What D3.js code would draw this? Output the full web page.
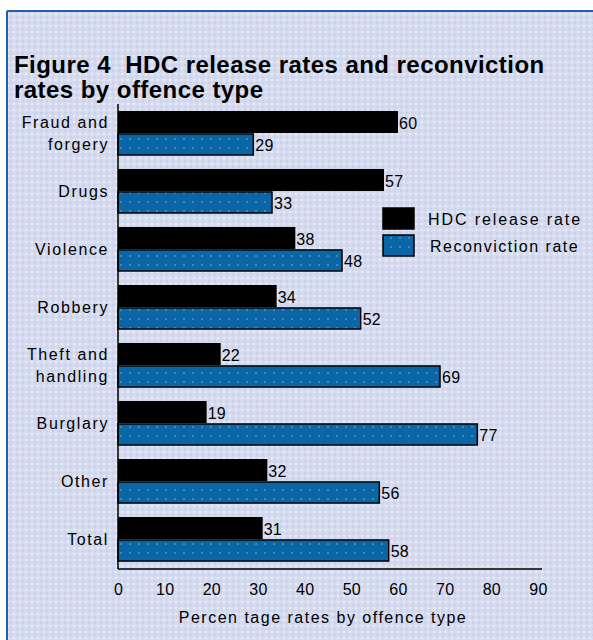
<!DOCTYPE html>
<html><head><meta charset="utf-8">
<script src="https://cdn.jsdelivr.net/npm/d3@7"></script>
<style>body{margin:0;background:#fff}svg{display:block}</style>
</head><body>
<script>
const categories = ["Fraud and|forgery","Drugs","Violence","Robbery","Theft and|handling","Burglary","Other","Total"];
const hdcRelease = [60,57,38,34,22,19,32,31];
const reconviction = [29,33,48,52,69,77,56,58];
const xTicks = [0,10,20,30,40,50,60,70,80,90];
const seriesNames = ["HDC release rate","Reconviction rate"];
const titleLines = ["Figure 4\u00a0\u00a0HDC release rates and reconviction","rates by offence type"];
const axisTitle = "Percen tage rates by offence type";

const W=593,H=640;
const svg=d3.select("body").append("svg").attr("width",W).attr("height",H);
const defs=svg.append("defs");
const bg=defs.append("pattern").attr("id","bg").attr("width",6).attr("height",6).attr("patternUnits","userSpaceOnUse");
bg.append("rect").attr("width",6).attr("height",6).attr("fill","#d5daee");
bg.append("rect").attr("x",1).attr("y",1).attr("width",2).attr("height",2).attr("fill","#e4f2f8");
bg.append("rect").attr("x",4).attr("y",4).attr("width",2).attr("height",2).attr("fill","#cbd1ea");
const bp=defs.append("pattern").attr("id","bluep").attr("width",9).attr("height",9).attr("patternUnits","userSpaceOnUse");
bp.append("rect").attr("width",9).attr("height",9).attr("fill","#0b66a6");
bp.append("rect").attr("x",3).attr("y",3).attr("width",2).attr("height",2).attr("fill","#3f86c8");

svg.append("rect").attr("width",W).attr("height",H).attr("fill","#fff");
svg.append("rect").attr("x",7).attr("y",11).attr("width",W-7).attr("height",H-11).attr("fill","url(#bg)");
svg.append("line").attr("x1",7).attr("x2",W).attr("y1",11).attr("y2",11).attr("stroke","#1f5fb0").attr("stroke-width",2);
svg.append("line").attr("x1",7).attr("x2",7).attr("y1",11).attr("y2",H).attr("stroke","#1f5fb0").attr("stroke-width",2);

const tg=svg.append("g").attr("font-family","Liberation Sans, Arial, sans-serif").attr("font-weight","bold").attr("font-size",24).attr("fill","#000");
titleLines.forEach((t,i)=>tg.append("text").attr("x",14).attr("y",73+i*25).attr("letter-spacing",0.45).text(t));

const x=d3.scaleLinear().domain([0,90]).range([118,538]);
const y=d3.scaleBand().domain(categories).range([104,569]).paddingInner(0.224).paddingOuter(0.12);
const sub=d3.scaleBand().domain(seriesNames).range([0,y.bandwidth()]).paddingInner(0.04);

const font="Liberation Sans, Arial, sans-serif";
const g=svg.append("g");
categories.forEach((c,i)=>{
  const y0=y(c);
  g.append("rect").attr("x",x(0)).attr("y",y0+sub(seriesNames[0])).attr("width",x(hdcRelease[i])-x(0)).attr("height",sub.bandwidth()).attr("fill","#000");
  g.append("rect").attr("x",x(0)).attr("y",y0+sub(seriesNames[1])).attr("width",x(reconviction[i])-x(0)).attr("height",sub.bandwidth()-1).attr("fill","url(#bluep)").attr("stroke","#000").attr("stroke-width",1.5);
  g.append("text").attr("x",x(hdcRelease[i])+1).attr("y",y0+sub(seriesNames[0])+sub.bandwidth()/2+1).attr("dy","0.35em")
    .attr("font-family",font).attr("font-size",16).attr("letter-spacing",0.3).text(hdcRelease[i]);
  g.append("text").attr("x",x(reconviction[i])+2).attr("y",y0+sub(seriesNames[1])+sub.bandwidth()/2).attr("dy","0.35em")
    .attr("font-family",font).attr("font-size",16).attr("letter-spacing",0.3).text(reconviction[i]);
  const lines=c.split("|");
  const cy=y0+y.bandwidth()/2;
  const lt=g.append("text").attr("text-anchor","end").attr("font-family",font).attr("font-size",16).attr("letter-spacing",1.6);
  if(lines.length===1){
    lt.append("tspan").attr("x",109).attr("y",cy).attr("dy","0.35em").text(lines[0]);
  } else {
    lt.append("tspan").attr("x",109).attr("y",cy-11).attr("dy","0.35em").text(lines[0]);
    lt.append("tspan").attr("x",109).attr("y",cy+11).attr("dy","0.35em").text(lines[1]);
  }
});

g.append("line").attr("x1",x(0)).attr("x2",x(0)).attr("y1",104).attr("y2",569).attr("stroke","#000").attr("stroke-width",1.5);
const ax=svg.append("g").attr("transform","translate(0,569)").call(d3.axisBottom(x).tickValues(xTicks).tickSize(0).tickPadding(15));
ax.select(".domain").attr("stroke","#000").attr("stroke-width",1.5).attr("d",`M${x(0)},0H542`);
ax.selectAll("text").attr("font-family",font).attr("font-size",16).attr("fill","#000").attr("letter-spacing",0.3);
svg.append("text").attr("x",323).attr("y",623).attr("text-anchor","middle").attr("font-family",font).attr("font-size",16).attr("letter-spacing",1.5).text(axisTitle);

const lg=svg.append("g");
seriesNames.forEach((s,i)=>{
  const yy=208+i*27;
  lg.append("rect").attr("x",383).attr("y",yy).attr("width",31).attr("height",21).attr("fill",i?"url(#bluep)":"#000").attr("stroke","#000").attr("stroke-width",1.5);
  lg.append("text").attr("x",i?430:428).attr("y",yy+11).attr("dy","0.35em").attr("font-family",font).attr("font-size",16).attr("letter-spacing",i?1.5:1.9).text(s);
});
</script>
</body></html>
